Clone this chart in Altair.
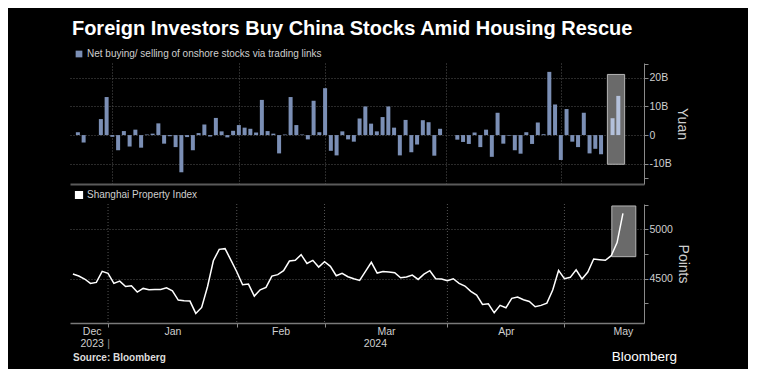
import altair as alt
import pandas as pd

title_text = "Foreign Investors Buy China Stocks Amid Housing Rescue"
flow_label = "Net buying/ selling of onshore stocks via trading links"
index_label = "Shanghai Property Index"
source_text = "Source: Bloomberg"
brand_text = "Bloomberg"

# trading-day index: 0 = 21 Dec 2023 ... 94 = 17 May 2024 (None = no northbound trading)
flow_bn = [1.0, -2.6, None, None, 5.6, 13.3, -0.6, -5.3, 1.4, -4.0, 1.9, -4.4, 0.2, 0.5, 4.1, -3.0,
           -0.4, -4.2, -13.0, -0.7, -5.3, 0.7, 3.7, -0.5, 6.0, 1.3, -0.8, 1.5, 3.5, 2.6, 2.2, 0.9, 12.3,
           1.4, 0.5, -6.4, 0.2, 13.3, 3.5, 0.2, -1.5, 12.0, 1.0, 16.4, -5.5, -7.1, 1.3, -1.5, -2.3, 5.8,
           10.0, 4.0, 1.3, 6.3, 10.0, 2.6, -7.1, 5.3, -6.0, -3.3, 5.2, 4.5, -7.2, 2.2,
           None, None, -1.6, -2.4, -3.1, 0.9, -4.2, 1.9, -7.6, 7.8, -3.0, -0.2, -5.3, -6.5, 1.0, -3.1,
           4.4, 0.3, 22.1, 10.7, -8.7, 9.1, -2.3, -4.2, 7.8, -6.4, -4.8, -6.7, None, 5.9, 13.7]
property_idx = [4547, 4527, 4497, 4453, 4463, 4574, 4554, 4453, 4476, 4422, 4429, 4365, 4402, 4389,
                4392, 4392, 4409, 4378, 4284, 4277, 4274, 4149, 4209, 4419, 4682, 4797, 4804, 4689,
                4571, 4439, 4446, 4324, 4388,
                4412, 4527, 4541, 4581, 4679, 4686, 4743, 4655, 4686, 4618, 4672, 4625, 4530, 4554,
                4520, 4500, 4483, 4574, 4666, 4557, 4574, 4568, 4561, 4510, 4517, 4537, 4493, 4547,
                4581, 4500, 4497,
                4480, 4500, 4453, 4426, 4372, 4334, 4240, 4247, 4155, 4230, 4206, 4301, 4314, 4287,
                4270, 4216, 4230, 4253, 4385, 4584, 4500, 4514, 4591, 4497, 4568, 4699, 4693, 4686,
                4733, 4865, 5162]

month_names = ["Dec", "Jan", "Feb", "Mar", "Apr", "May"]
month_mid = [3.2, 17, 35.5, 53.5, 74, 94]
month_edges = [6, 28, 43, 64, 84]
year_names = ["2023", "|", "2024"]
year_mid = [3.2, 6, 51.6]
highlight_from = 93
flow_box = [92.1, 95.1, -10.2, 21.2]
prop_box = [92.1, 96.2, 4723, 5236]
x_domain = [-0.5, 97.6]
flow_domain = [-17.1, 25.2]
prop_domain = [4052, 5256]
flow_ticks = [-15, -10, 0, 10, 20, 25]
flow_labeled = [-10, 0, 10, 20]
prop_ticks = [4250, 4500, 4750, 5000, 5250]
prop_labeled = [4500, 5000]

BG = "#000000"
BAR = "#7b8fb5"
BAR_HL = "#b4c1db"
BOX_FILL = "#6a6a6a"
BOX_STROKE = "#b5b5b5"
GRID = "#555555"
AXIS = "#8a8a8a"
LABEL = "#cfcfcf"
FONT = "Liberation Sans, Arial, sans-serif"

df_flow = pd.DataFrame({"i": list(range(len(flow_bn))), "v": flow_bn}).dropna()
df_flow["s"] = flow_label
df_prop = pd.DataFrame({"i": list(range(len(property_idx))), "p": property_idx})
df_prop["s"] = index_label
df_fbox = pd.DataFrame({"x": [flow_box[0]], "x2": [flow_box[1]], "y": [flow_box[2]], "y2": [flow_box[3]]})
df_pbox = pd.DataFrame({"x": [prop_box[0]], "x2": [prop_box[1]], "y": [prop_box[2]], "y2": [prop_box[3]]})
df_edges = pd.DataFrame({"e": month_edges})


def label_expr(vals, names):
    expr = "''"
    for v, n in reversed(list(zip(vals, names))):
        expr = f"abs(datum.value - {v}) < 0.01 ? '{n}' : ({expr})"
    return expr


def in_list(vals):
    return " || ".join(f"datum.value == {v}" for v in vals)


xs = alt.Scale(domain=x_domain, nice=False, zero=False)
fs = alt.Scale(domain=flow_domain, nice=False, zero=False)
ps = alt.Scale(domain=prop_domain, nice=False, zero=False)

common_y = dict(orient="right", grid=True, gridColor=GRID, gridDash=[1, 2], tickColor=AXIS, tickSize=4,
                domainColor=AXIS, labelColor=LABEL, labelFontSize=10.5, labelFont=FONT, labelPadding=1,
                titleColor=LABEL, titleFontSize=14, titleFont=FONT, titleFontWeight="normal",
                titleAngle=90, titlePadding=3)

flow_yaxis = alt.Axis(values=flow_ticks,
                      labelExpr=f"({in_list(flow_labeled)}) ? (datum.value == 0 ? '0' : datum.value + 'B') : ''",
                      gridOpacity={"condition": {"test": in_list(flow_labeled), "value": 1}, "value": 0},
                      title="Yuan", **common_y)
prop_yaxis = alt.Axis(values=prop_ticks,
                      labelExpr=f"({in_list(prop_labeled)}) ? datum.value : ''",
                      gridOpacity={"condition": {"test": in_list(prop_labeled), "value": 1}, "value": 0},
                      title="Points", **common_y)

top_xaxis = alt.Axis(values=month_edges, labels=False, ticks=False, grid=True, gridColor=GRID,
                     gridDash=[1, 2], domainColor="#5a5a5a", domainWidth=2, title=None)

legend_style = dict(orient="none", legendX=4, legendY=-14, title=None, symbolType="square",
                    symbolSize=45, labelColor=LABEL, labelFontSize=10, labelFont=FONT, padding=0,
                    labelOffset=3, labelLimit=0)

# ---- top panel: net flows
fbox = alt.Chart(df_fbox).mark_rect(fill=BOX_FILL, stroke=BOX_STROKE, strokeWidth=1).encode(
    x=alt.X("x:Q", scale=xs, axis=top_xaxis), x2="x2",
    y=alt.Y("y:Q", scale=fs, axis=flow_yaxis), y2="y2")

bars = alt.Chart(df_flow).transform_filter(f"datum.i < {highlight_from}").mark_bar(
    orient="vertical", size=4).encode(
    x=alt.X("i:Q", scale=xs, axis=top_xaxis),
    y=alt.Y("v:Q", scale=fs, axis=flow_yaxis),
    y2=alt.datum(0),
    color=alt.Color("s:N", scale=alt.Scale(range=[BAR]),
                    legend=alt.Legend(symbolStrokeWidth=0, **legend_style)))

bars_hl = alt.Chart(df_flow).transform_filter(f"datum.i >= {highlight_from}").mark_bar(
    orient="vertical", size=4, color=BAR_HL).encode(
    x=alt.X("i:Q", scale=xs, axis=top_xaxis),
    y=alt.Y("v:Q", scale=fs, axis=flow_yaxis),
    y2=alt.datum(0))

top = alt.layer(fbox, bars, bars_hl).properties(width=574, height=121)

# ---- bottom panel: property index
edge_axis = alt.Axis(orient="bottom", values=month_edges, labels=False, ticks=True, tickSize=4,
                     tickColor=AXIS, grid=False, domain=True, domainColor="#7a7a7a", domainWidth=1.5,
                     title=None)
month_axis = alt.Axis(orient="bottom", values=month_mid, labelExpr=label_expr(month_mid, month_names),
                      ticks=False, domain=False, grid=False, labelPadding=3, labelColor=LABEL,
                      labelFontSize=10.5, labelFont=FONT, labelFlush=False, labelOverlap=False, title=None)
year_axis = alt.Axis(orient="bottom", values=year_mid, labelExpr=label_expr(year_mid, year_names),
                     ticks=False, domain=False, grid=False, labelPadding=15,
                     labelColor={"condition": {"test": "datum.value == 6", "value": "#8a8a8a"}, "value": LABEL},
                     labelFontSize=10.5, labelFont=FONT, labelFlush=False, labelOverlap=False, title=None)

grid_rules = alt.Chart(df_edges).mark_rule(color=GRID, strokeDash=[1, 2]).encode(
    x=alt.X("e:Q", scale=xs, axis=year_axis))

pbox = alt.Chart(df_pbox).mark_rect(fill=BOX_FILL, stroke=BOX_STROKE, strokeWidth=1).encode(
    x=alt.X("x:Q", scale=xs, axis=month_axis), x2="x2",
    y=alt.Y("y:Q", scale=ps, axis=prop_yaxis), y2="y2")

line = alt.Chart(df_prop).mark_line(strokeWidth=1.5).encode(
    x=alt.X("i:Q", scale=xs, axis=edge_axis),
    y=alt.Y("p:Q", scale=ps, axis=prop_yaxis),
    color=alt.Color("s:N", scale=alt.Scale(range=["#ffffff"]),
                    legend=alt.Legend(symbolFillColor="#ffffff", **legend_style)))

src = alt.Chart(pd.DataFrame({"t": [source_text]})).mark_text(
    align="left", baseline="middle", fontWeight="bold", fontSize=10, color="#dddddd", font=FONT).encode(
    x=alt.value(3), y=alt.value(154), text="t:N")
brand = alt.Chart(pd.DataFrame({"t": [brand_text]})).mark_text(
    align="right", baseline="middle", fontSize=13.5, color="#ffffff", font=FONT).encode(
    x=alt.value(607), y=alt.value(153), text="t:N")

bottom = alt.layer(grid_rules, pbox, line, src, brand).resolve_axis(x="independent").properties(
    width=574, height=119)

chart = alt.vconcat(top, bottom, spacing=6).resolve_scale(color="independent").properties(
    title=alt.Title(title_text, anchor="start", fontSize=20, font="Liberation Sans", fontWeight="bold",
                    color="#ffffff", offset=10, dx=2),
    padding={"left": 61, "top": 11, "right": 58, "bottom": 5},
    background=BG,
).configure_view(stroke=None)

chart.save("out.html", embed_options={"renderer": "svg", "actions": False})
